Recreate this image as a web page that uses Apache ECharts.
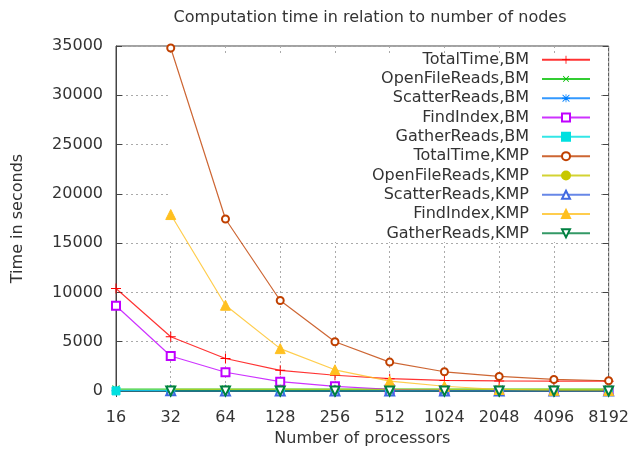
<!DOCTYPE html>
<html>
<head>
<meta charset="utf-8">
<script src="https://cdn.jsdelivr.net/npm/echarts@6/dist/echarts.min.js"></script>
<style>
html,body{margin:0;padding:0;background:#fff;}
#chart{width:632px;height:452px;}
</style>
</head>
<body>
<div id="chart"></div>
<script>
var processors = ['16','32','64','128','256','512','1024','2048','4096','8192'];
var yTicks = [0, 5000, 10000, 15000, 20000, 25000, 30000, 35000];

var totalTimeBM      = [10400, 5500, 3300, 2100, 1600, 1250, 1070, 1020, 1000, 1000];
var openFileReadsBM  = [200, 200, 200, 200, 200, 200, 200, 200, 200, 200];
var scatterReadsBM   = [30, 15, 10, 8, 6, 5, 4, 4, 3, 3];
var findIndexBM      = [8650, 3550, 1900, 950, 470, 180, 60, 30, 20, 15];
var gatherReadsBM    = [10, 6, 4, 3, 2, 2, 1, 1, 1, 1];
var totalTimeKMP     = [null, 34800, 17450, 9180, 5000, 2930, 1950, 1480, 1170, 1040];
var openFileReadsKMP = [null, 180, 180, 180, 180, 180, 180, 180, 180, 180];
var scatterReadsKMP  = [null, 20, 12, 8, 6, 5, 4, 3, 3, 3];
var findIndexKMP     = [null, 17900, 8700, 4300, 2150, 1000, 480, 150, 70, 40];
var gatherReadsKMP   = [null, 10, 6, 4, 3, 2, 2, 1, 1, 1];

var seriesNames = ['TotalTime,BM','OpenFileReads,BM','ScatterReads,BM','FindIndex,BM','GatherReads,BM',
                   'TotalTime,KMP','OpenFileReads,KMP','ScatterReads,KMP','FindIndex,KMP','GatherReads,KMP'];
var seriesData = [totalTimeBM, openFileReadsBM, scatterReadsBM, findIndexBM, gatherReadsBM,
                  totalTimeKMP, openFileReadsKMP, scatterReadsKMP, findIndexKMP, gatherReadsKMP];

var PLUS = 'path://M4.5,0H5.5V4.5H10V5.5H5.5V10H4.5V5.5H0V4.5H4.5Z';
var STAR = 'path://M4.5,0H5.5V4.5H10V5.5H5.5V10H4.5V5.5H0V4.5H4.5ZM1.1,0.4L9.6,8.9L8.9,9.6L0.4,1.1ZM8.9,0.4L9.6,1.1L1.1,9.6L0.4,8.9Z';
var styles = [
  {color:'#ff0000', symbol:PLUS, size:10, rot:0, bw:0},
  {color:'#00c000', symbol:PLUS, size:10, rot:45, bw:0},
  {color:'#0080ff', symbol:STAR, size:9, rot:0, bw:0},
  {color:'#c000ff', symbol:'emptyRect', size:8, rot:0, bw:1},
  {color:'#00e0e0', symbol:'rect', size:8, rot:0, bw:1},
  {color:'#c04000', symbol:'emptyCircle', size:7, rot:0, bw:1.2},
  {color:'#c8c800', symbol:'circle', size:7, rot:0, bw:1},
  {color:'#4169e1', symbol:'emptyTriangle', size:9, rot:0, bw:1},
  {color:'#ffc020', symbol:'triangle', size:10, rot:0, bw:1},
  {color:'#008040', symbol:'emptyTriangle', size:9, rot:180, bw:1}
];

var series = seriesNames.map(function(name, i){
  var s = styles[i];
  return {
    name: name,
    type: 'line',
    data: seriesData[i],
    xAxisIndex: 0, yAxisIndex: 0,
    symbol: s.symbol,
    symbolSize: s.size,
    symbolRotate: s.rot,
    showAllSymbol: true,
    connectNulls: false,
    animation: false,
    z: 3,
    lineStyle: {color: s.color, width: 1.2, opacity: 0.8},
    itemStyle: {color: s.color, borderColor: s.color, borderWidth: s.bw}
  };
});

var chart = echarts.init(document.getElementById('chart'), null, {renderer:'canvas'});
var font = 'DejaVu Sans';
var txt = '#333';
chart.setOption({
  backgroundColor: '#ffffff',
  animation: false,
  title: {
    text: 'Computation time in relation to number of nodes',
    left: 365, top: 5, textAlign: 'center',
    textStyle: {fontFamily: font, fontSize: 16, fontWeight: 'normal', color: txt}
  },
  legend: {
    data: seriesNames,
    orient: 'vertical',
    right: 41, top: 50,
    align: 'right',
    itemWidth: 48, itemHeight: 10,
    itemGap: 0,
    padding: 0,
    z: 5,
    textStyle: {fontFamily: font, fontSize: 16, color: txt, lineHeight: 19.3, padding: [0, 8, 0, 0]}
  },
  // blank area where the key interrupts the grid lines (below the data lines)
  graphic: [{
    type: 'rect', z: 1, silent: true,
    shape: {x: 168, y: 53, width: 433, height: 189},
    style: {fill: '#ffffff'}
  }],
  grid: {left: 116, right: 18, top: 46, bottom: 58, show: true, borderColor: '#444', borderWidth: 1, backgroundColor: 'transparent'},
  xAxis: [{
    type: 'category', data: processors, boundaryGap: false,
    name: 'Number of processors', nameLocation: 'middle', nameGap: 40,
    nameTextStyle: {fontFamily: font, fontSize: 16, color: txt},
    axisLine: {show: true, lineStyle: {color: '#444'}},
    axisTick: {show: true, inside: true, length: 6, lineStyle: {color: '#444'}},
    axisLabel: {fontFamily: font, fontSize: 16, color: txt, margin: 19},
    splitLine: {show: true, lineStyle: {color: '#aaa', type: [2, 3], width: 1}}
  }, {
    type: 'category', data: processors, boundaryGap: false, position: 'top',
    axisLine: {show: false},
    axisTick: {show: true, inside: true, length: 6, lineStyle: {color: '#444'}},
    axisLabel: {show: false},
    splitLine: {show: false}
  }],
  yAxis: [{
    type: 'value', min: 0, max: 35000, interval: 5000,
    name: 'Time in seconds', nameLocation: 'middle', nameGap: 90,
    nameTextStyle: {fontFamily: font, fontSize: 16, color: txt},
    axisLine: {show: true, lineStyle: {color: '#444'}},
    axisTick: {show: true, inside: true, length: 6, lineStyle: {color: '#444'}},
    axisLabel: {fontFamily: font, fontSize: 16, color: txt, margin: 13, formatter: function(v){ return String(v); }},
    splitLine: {show: true, lineStyle: {color: '#aaa', type: [2, 3], width: 1}}
  }, {
    type: 'value', min: 0, max: 35000, interval: 5000, position: 'right',
    axisLine: {show: false},
    axisTick: {show: true, inside: true, length: 6, lineStyle: {color: '#444'}},
    axisLabel: {show: false},
    splitLine: {show: false}
  }],
  series: series
});
</script>
</body>
</html>
